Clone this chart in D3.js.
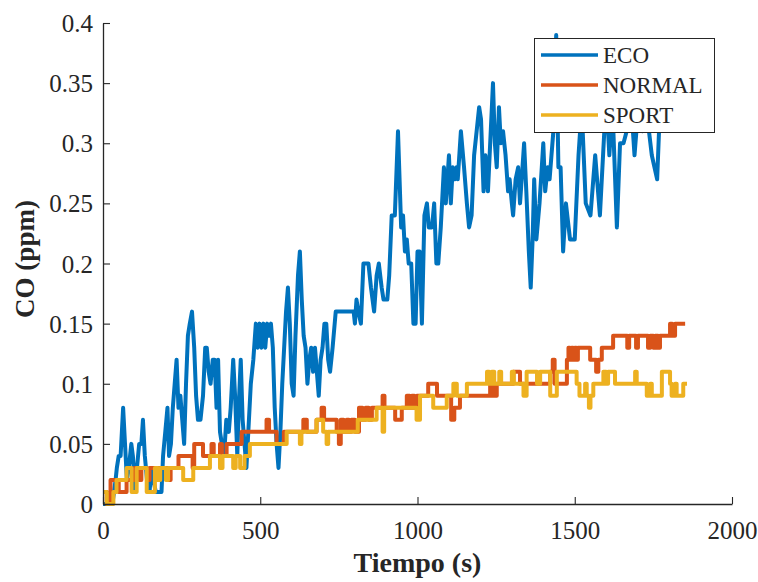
<!DOCTYPE html>
<html>
<head>
<meta charset="utf-8">
<script src="https://cdn.jsdelivr.net/npm/d3@7"></script>
<style>
  body { margin: 0; background: #fff; }
  text { font-family: "Liberation Serif", "DejaVu Serif", serif; fill: #262626; }
</style>
</head>
<body>
<svg id="chart"></svg>
<script>
// data: [time (s), CO (ppm)]
const eco = [
  [0,0],[30,0],[40,0.02],[44,0.03],[50,0.04],[56,0.04],[64,0.08],[70,0.05],[76,0.02],[82,0.03],
  [90,0.05],[95,0.04],[102,0.01],[108,0.03],[115,0.05],[122,0.05],[127,0.07],[133,0.04],[140,0.02],
  [148,0.01],[154,0.03],[160,0.02],[168,0.01],[186,0.01],[191,0.04],[198,0.06],[205,0.08],[210,0.04],
  [216,0.05],[222,0.08],[228,0.10],[234,0.12],[240,0.08],[246,0.09],[252,0.07],[258,0.05],[264,0.10],
  [270,0.14],[276,0.15],[283,0.16],[290,0.13],[296,0.09],[302,0.07],[310,0.07],[318,0.09],[325,0.13],
  [330,0.13],[336,0.11],[342,0.10],[349,0.12],[355,0.12],[361,0.08],[366,0.12],[372,0.06],[378,0.05],
  [385,0.04],[392,0.07],[400,0.06],[406,0.08],[414,0.12],[420,0.09],[427,0.04],[433,0.09],[438,0.12],
  [444,0.07],[450,0.05],[456,0.03],[462,0.06],[470,0.10],[478,0.12],[486,0.15],[492,0.13],[498,0.15],
  [504,0.13],[510,0.15],[516,0.13],[522,0.15],[528,0.14],[534,0.15],[540,0.13],[546,0.08],[552,0.05],
  [558,0.03],[564,0.06],[570,0.10],[576,0.13],[582,0.16],[588,0.18],[594,0.15],[600,0.10],[606,0.09],
  [612,0.14],[620,0.19],[626,0.21],[632,0.17],[638,0.14],[644,0.13],[650,0.10],[656,0.12],[662,0.13],
  [668,0.11],[674,0.13],[680,0.11],[686,0.09],[692,0.12],[698,0.13],[704,0.15],[710,0.15],[716,0.12],
  [722,0.11],[730,0.13],[740,0.16],[797,0.16],[801,0.15],[806,0.17],[812,0.16],[820,0.15],[828,0.20],
  [844,0.20],[852,0.18],[862,0.16],[870,0.19],[877,0.20],[886,0.18],[892,0.17],[904,0.17],[910,0.19],
  [918,0.24],[928,0.24],[938,0.31],[948,0.23],[954,0.24],[960,0.21],[966,0.22],[972,0.20],[980,0.20],
  [987,0.15],[994,0.15],[1000,0.21],[1007,0.21],[1014,0.15],[1022,0.24],[1030,0.25],[1036,0.23],
  [1046,0.23],[1053,0.25],[1060,0.20],[1066,0.20],[1074,0.23],[1084,0.28],[1090,0.25],[1100,0.29],
  [1106,0.25],[1112,0.28],[1118,0.27],[1124,0.28],[1128,0.27],[1138,0.31],[1148,0.28],[1157,0.25],
  [1164,0.23],[1172,0.24],[1180,0.29],[1188,0.31],[1196,0.33],[1202,0.32],[1210,0.26],[1216,0.29],
  [1224,0.26],[1240,0.35],[1246,0.30],[1252,0.28],[1259,0.33],[1265,0.30],[1272,0.31],[1280,0.29],
  [1288,0.26],[1293,0.27],[1300,0.25],[1304,0.24],[1312,0.27],[1320,0.28],[1326,0.25],[1339,0.30],
  [1346,0.26],[1354,0.21],[1360,0.18],[1366,0.22],[1371,0.27],[1378,0.22],[1388,0.25],[1400,0.30],
  [1406,0.26],[1414,0.28],[1420,0.27],[1432,0.31],[1441,0.39],[1448,0.28],[1455,0.28],[1463,0.21],
  [1472,0.25],[1485,0.22],[1500,0.22],[1512,0.29],[1522,0.33],[1535,0.25],[1550,0.24],[1565,0.29],
  [1580,0.24],[1600,0.34],[1610,0.29],[1620,0.33],[1634,0.23],[1644,0.30],[1655,0.30],[1665,0.31],
  [1680,0.33],[1690,0.29],[1705,0.34],[1715,0.31],[1727,0.33],[1745,0.29],[1762,0.27],[1771,0.33],
  [1780,0.31]
];

// step series: [time where level starts, level]
const normal = [
  [0,0.01],[12,0],[24,0.02],[50,0.01],[75,0.02],[100,0.03],[115,0.02],[122,0.03],[140,0.02],[148,0.03],
  [205,0.02],[215,0.03],[240,0.04],[285,0.03],[290,0.05],[318,0.04],[345,0.05],[352,0.04],[372,0.05],
  [378,0.04],[393,0.05],[441,0.06],[520,0.07],[528,0.06],[552,0.05],[575,0.06],[637,0.07],[648,0.06],
  [679,0.07],[695,0.08],[703,0.07],[743,0.06],[750,0.05],[756,0.07],[765,0.06],[775,0.07],[782,0.06],
  [790,0.07],[801,0.06],[814,0.08],[825,0.07],[835,0.08],[845,0.07],[855,0.08],[889,0.09],[895,0.08],
  [929,0.07],[950,0.08],[966,0.09],[975,0.08],[982,0.09],[990,0.08],[998,0.09],[1034,0.10],[1062,0.09],
  [1107,0.07],[1117,0.08],[1135,0.09],[1231,0.10],[1240,0.09],[1252,0.10],[1305,0.11],[1326,0.10],
  [1422,0.11],[1430,0.12],[1436,0.10],[1475,0.12],[1480,0.13],[1485,0.12],[1490,0.13],[1495,0.12],
  [1500,0.13],[1505,0.12],[1510,0.13],[1549,0.12],[1568,0.11],[1575,0.12],[1586,0.13],[1622,0.14],
  [1667,0.13],[1673,0.14],[1695,0.13],[1701,0.14],[1733,0.13],[1740,0.14],[1750,0.13],[1756,0.14],
  [1765,0.13],[1771,0.14],[1803,0.15],[1810,0.14],[1819,0.15],[1851,0.15]
];

const sport = [
  [0,0.01],[12,0],[33,0.01],[43,0.02],[75,0.03],[91,0.01],[107,0.03],[139,0.01],[165,0.03],[175,0.02],
  [182,0.03],[200,0.02],[207,0.03],[255,0.02],[287,0.03],[340,0.04],[372,0.03],[380,0.04],[414,0.03],
  [422,0.04],[436,0.03],[450,0.04],[467,0.05],[584,0.06],[626,0.05],[631,0.06],[679,0.07],[700,0.06],
  [711,0.05],[716,0.06],[810,0.07],[870,0.08],[889,0.06],[894,0.08],[997,0.07],[1008,0.09],[1050,0.08],
  [1093,0.09],[1114,0.10],[1125,0.09],[1157,0.10],[1221,0.11],[1228,0.10],[1236,0.11],[1244,0.10],
  [1260,0.11],[1266,0.10],[1300,0.11],[1306,0.10],[1337,0.09],[1347,0.11],[1380,0.10],[1390,0.11],
  [1422,0.09],[1443,0.11],[1506,0.10],[1515,0.09],[1533,0.10],[1538,0.09],[1545,0.08],[1550,0.09],
  [1559,0.10],[1591,0.11],[1600,0.10],[1606,0.11],[1628,0.10],[1692,0.11],[1697,0.10],[1729,0.09],
  [1740,0.10],[1745,0.09],[1777,0.11],[1803,0.10],[1808,0.09],[1819,0.10],[1824,0.09],[1845,0.10],
  [1857,0.10]
];

const seriesNames  = ['ECO', 'NORMAL', 'SPORT'];
const seriesColors = ['#0072BD', '#D95319', '#EDB120'];
const xTicks = [0, 500, 1000, 1500, 2000];
const yTicks = [0, 0.05, 0.1, 0.15, 0.2, 0.25, 0.3, 0.35, 0.4];

let width   = 758,
    height  = 582,
    mLeft   = 103, mRight  = 732,
    mTop    = 23,  mBottom = 504;

let svg = d3.select('#chart')
            .attr('width', width)
            .attr('height', height);

let xScale = d3.scaleLinear().domain([0, 2000]).range([mLeft, mRight]),
    yScale = d3.scaleLinear().domain([0, 0.4]).range([mBottom, mTop]);

let xAxis = d3.axisBottom(xScale)
              .tickValues(xTicks)
              .tickSizeInner(-7)
              .tickSizeOuter(0)
              .tickPadding(17)
              .tickFormat(d3.format('d'));
let yAxis = d3.axisLeft(yScale)
              .tickValues(yTicks)
              .tickSizeInner(-7)
              .tickSizeOuter(0)
              .tickPadding(10)
              .tickFormat(d => d === 0 ? '0' : String(+d.toFixed(2)));

// lines
let ecoLine = d3.line()
                .x(d => xScale(d[0]))
                .y(d => yScale(d[1]));
let stepLine = d3.line()
                .curve(d3.curveStepAfter)
                .x(d => xScale(d[0]))
                .y(d => yScale(d[1]));

let plots = [[eco, ecoLine], [normal, stepLine], [sport, stepLine]];
svg.selectAll('path.series')
   .data(plots)
   .enter()
   .append('path')
     .attr('class', 'series')
     .attr('d', d => d[1](d[0]))
     .attr('fill', 'none')
     .attr('stroke', (d, i) => seriesColors[i])
     .attr('stroke-width', 4)
     .attr('stroke-linejoin', 'round');

// axes
let gx = svg.append('g')
            .attr('transform', `translate(0, ${mBottom})`)
            .call(xAxis);
let gy = svg.append('g')
            .attr('transform', `translate(${mLeft}, 0)`)
            .call(yAxis);
[gx, gy].forEach(g => {
  g.select('.domain').attr('stroke', '#262626').attr('stroke-width', 1.3);
  g.selectAll('.tick line').attr('stroke', '#262626').attr('stroke-width', 1.1);
  g.selectAll('.tick text')
   .attr('font-family', '"Liberation Serif", serif')
   .attr('font-size', 25)
   .attr('fill', '#262626');
});
gy.selectAll('.tick text').attr('dy', '0.34em');

// axis titles
svg.append('text')
   .attr('x', (mLeft + mRight) / 2)
   .attr('y', 572)
   .attr('text-anchor', 'middle')
   .attr('font-size', 28)
   .attr('font-weight', 'bold')
   .text('Tiempo (s)');

svg.append('text')
   .attr('transform', 'rotate(-90)')
   .attr('x', -259)
   .attr('y', 34)
   .attr('text-anchor', 'middle')
   .attr('font-size', 27)
   .attr('font-weight', 'bold')
   .text('CO (ppm)');

// legend
let legend = svg.append('g');
legend.append('rect')
      .attr('x', 534.5).attr('y', 38.5)
      .attr('width', 180).attr('height', 94)
      .attr('fill', '#fff')
      .attr('stroke', '#262626')
      .attr('stroke-width', 1);

let rows = legend.selectAll('g.row')
                 .data(seriesNames)
                 .enter()
                 .append('g')
                   .attr('class', 'row')
                   .attr('transform', (d, i) => `translate(0, ${55 + i * 30})`);
rows.append('line')
    .attr('x1', 541).attr('x2', 598)
    .attr('stroke', (d, i) => seriesColors[i])
    .attr('stroke-width', 3.6);
rows.append('text')
    .attr('x', 603)
    .attr('dy', 8)
    .attr('font-size', 23)
    .text(d => d);
</script>
</body>
</html>
